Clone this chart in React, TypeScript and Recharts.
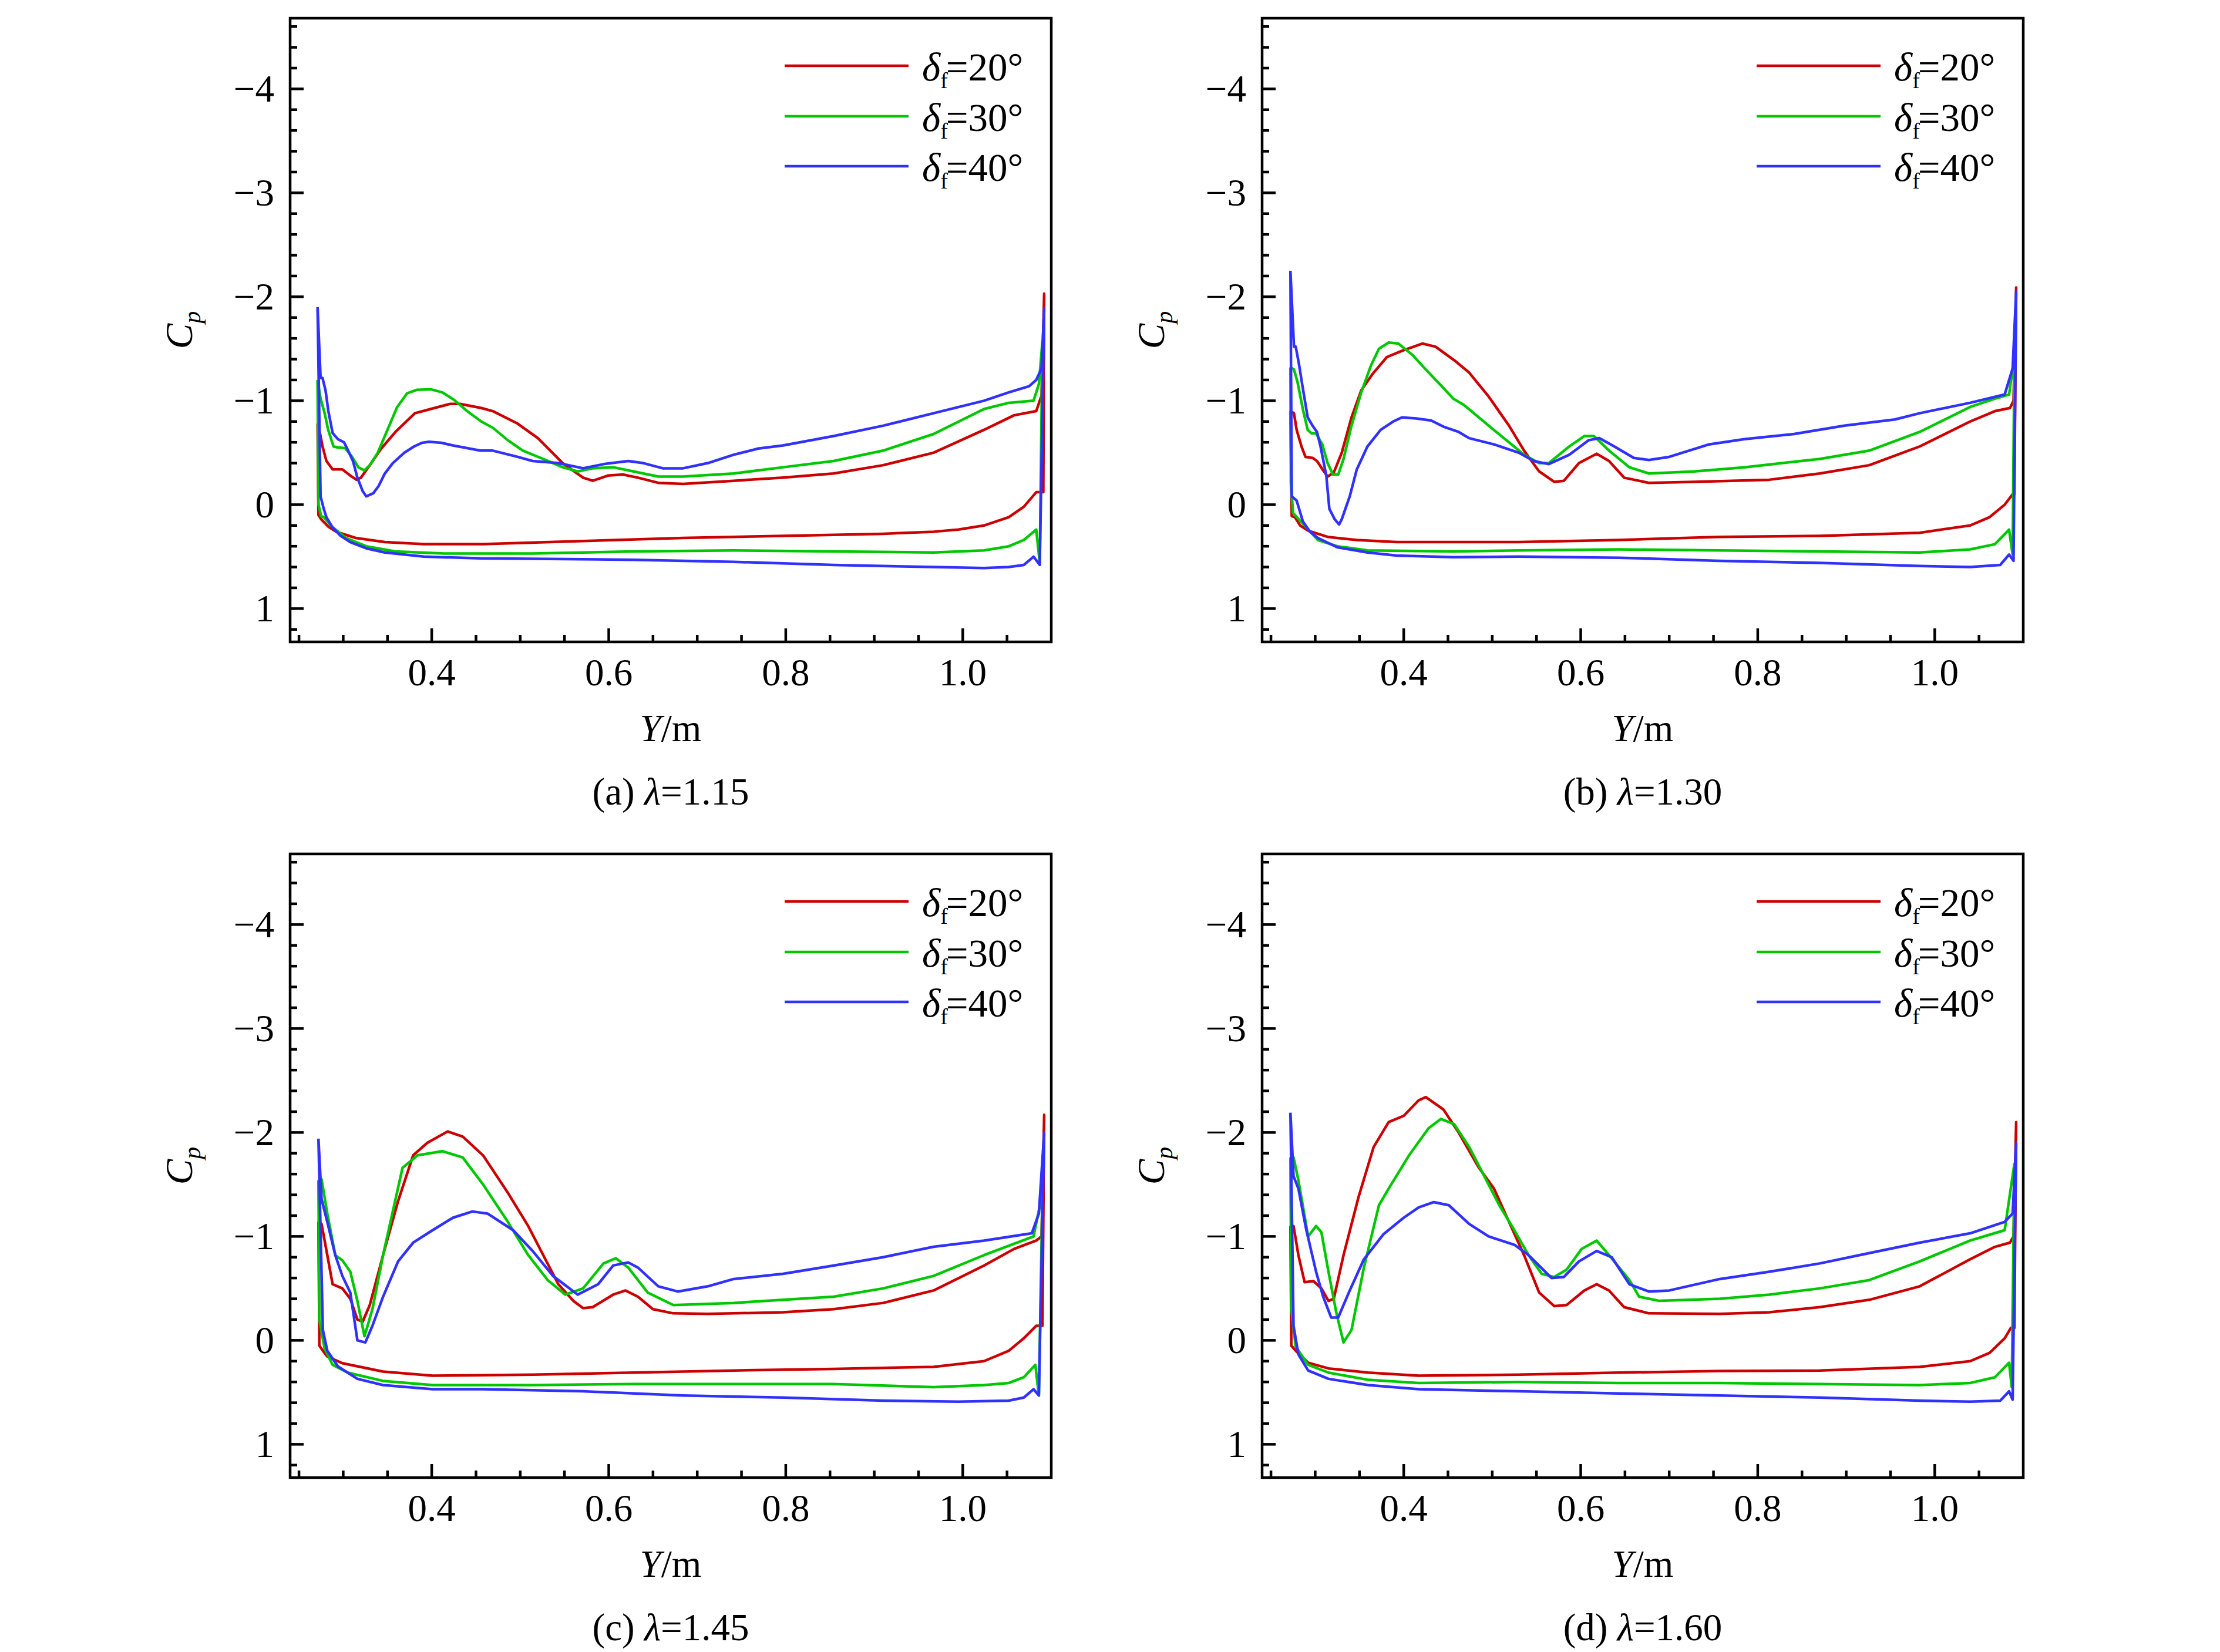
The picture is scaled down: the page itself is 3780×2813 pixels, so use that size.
import { LineChart, Line, XAxis, YAxis, ReferenceArea, Legend } from 'recharts'

type P = [number, number]

const FONT = "'Liberation Serif', 'Times New Roman', serif"
const FS = 65

// axis ticks (minor + major)
const X_TICKS = [0.25, 0.3, 0.35, 0.4, 0.45, 0.5, 0.55, 0.6, 0.65, 0.7, 0.75, 0.8, 0.85, 0.9, 0.95, 1.0, 1.05]
const X_MAJOR = [0.4, 0.6, 0.8, 1.0]
const Y_TICKS = [-4.6, -4.4, -4.2, -4, -3.8, -3.6, -3.4, -3.2, -3, -2.8, -2.6, -2.4, -2.2, -2, -1.8, -1.6, -1.4, -1.2, -1,
  -0.8, -0.6, -0.4, -0.2, 0, 0.2, 0.4, 0.6, 0.8, 1, 1.2]
const X_DOMAIN: P = [0.24, 1.1]
const Y_DOMAIN: P = [-4.68, 1.32]

const SERIES = [
  { key: 'd20', label: '=20°', color: '#cc0000' },
  { key: 'd30', label: '=30°', color: '#00c800' },
  { key: 'd40', label: '=40°', color: '#3030ff' },
]

// (a) lambda = 1.15
const A20_UP: P[] = [[0.271, -0.78], [0.2744, -0.66], [0.2766, -0.56], [0.281, -0.42], [0.288, -0.34], [0.299, -0.34], [0.308, -0.28], [0.315, -0.24], [0.32, -0.26], [0.33, -0.38], [0.343, -0.54], [0.359, -0.7], [0.381, -0.88], [0.403, -0.93], [0.421, -0.97], [0.432, -0.97], [0.456, -0.93], [0.469, -0.9], [0.497, -0.78], [0.52, -0.64], [0.548, -0.4], [0.571, -0.26], [0.582, -0.23], [0.599, -0.28], [0.616, -0.29], [0.633, -0.26], [0.656, -0.21], [0.684, -0.2], [0.741, -0.23], [0.797, -0.26], [0.854, -0.3], [0.91, -0.38], [0.967, -0.5], [1.024, -0.72], [1.058, -0.86], [1.083, -0.9], [1.089, -1.05], [1.092, -2.03]]
const A20_LO: P[] = [[1.091, -0.12], [1.083, -0.12], [1.069, 0.02], [1.052, 0.12], [1.024, 0.2], [0.995, 0.24], [0.967, 0.26], [0.91, 0.28], [0.797, 0.3], [0.684, 0.32], [0.571, 0.35], [0.458, 0.38], [0.391, 0.38], [0.347, 0.36], [0.314, 0.32], [0.292, 0.26], [0.283, 0.21], [0.275, 0.14], [0.272, 0.1]]
const A30_UP: P[] = [[0.271, -1.2], [0.2744, -1.02], [0.279, -0.88], [0.283, -0.72], [0.289, -0.56], [0.294, -0.55], [0.302, -0.545], [0.31, -0.46], [0.317, -0.36], [0.324, -0.33], [0.33, -0.38], [0.339, -0.5], [0.35, -0.72], [0.361, -0.94], [0.372, -1.07], [0.383, -1.105], [0.399, -1.11], [0.412, -1.08], [0.425, -1.01], [0.44, -0.9], [0.456, -0.8], [0.469, -0.74], [0.486, -0.62], [0.503, -0.52], [0.526, -0.44], [0.548, -0.36], [0.565, -0.32], [0.582, -0.35], [0.605, -0.36], [0.628, -0.32], [0.656, -0.27], [0.684, -0.27], [0.741, -0.3], [0.797, -0.36], [0.854, -0.42], [0.91, -0.52], [0.967, -0.68], [1.024, -0.92], [1.052, -0.98], [1.08, -1.0], [1.086, -1.16], [1.09, -1.57]]
const A30_LO: P[] = [[1.087, 0.56], [1.083, 0.24], [1.069, 0.34], [1.052, 0.4], [1.024, 0.44], [0.967, 0.46], [0.854, 0.45], [0.741, 0.44], [0.628, 0.45], [0.514, 0.47], [0.414, 0.47], [0.359, 0.45], [0.326, 0.4], [0.303, 0.32], [0.287, 0.21], [0.278, 0.12], [0.275, 0.11], [0.272, 0.0]]
const A40_UP: P[] = [[0.271, -1.9], [0.2744, -1.22], [0.2766, -1.22], [0.28, -1.1], [0.2832, -0.9], [0.288, -0.69], [0.294, -0.63], [0.301, -0.6], [0.305, -0.53], [0.311, -0.42], [0.316, -0.26], [0.322, -0.13], [0.326, -0.08], [0.334, -0.11], [0.34, -0.18], [0.347, -0.3], [0.356, -0.4], [0.369, -0.5], [0.38, -0.56], [0.389, -0.595], [0.397, -0.605], [0.411, -0.595], [0.424, -0.57], [0.455, -0.52], [0.469, -0.52], [0.497, -0.46], [0.514, -0.42], [0.543, -0.4], [0.571, -0.35], [0.594, -0.39], [0.622, -0.42], [0.639, -0.4], [0.661, -0.35], [0.684, -0.35], [0.712, -0.4], [0.741, -0.48], [0.769, -0.54], [0.797, -0.57], [0.854, -0.66], [0.91, -0.76], [0.967, -0.88], [1.024, -1.0], [1.052, -1.08], [1.075, -1.14], [1.083, -1.2], [1.089, -1.31], [1.092, -1.89]]
const A40_LO: P[] = [[1.087, 0.58], [1.08, 0.5], [1.069, 0.58], [1.052, 0.6], [1.024, 0.61], [0.967, 0.6], [0.854, 0.58], [0.741, 0.55], [0.628, 0.53], [0.514, 0.52], [0.455, 0.517], [0.391, 0.5], [0.347, 0.46], [0.326, 0.42], [0.308, 0.36], [0.297, 0.3], [0.288, 0.22], [0.281, 0.12], [0.278, 0.04], [0.2744, -0.08]]

// (b) lambda = 1.30
const B20_UP: P[] = [[0.272, -0.9], [0.276, -0.88], [0.279, -0.72], [0.2845, -0.56], [0.289, -0.46], [0.297, -0.45], [0.302, -0.42], [0.309, -0.33], [0.314, -0.27], [0.321, -0.31], [0.33, -0.5], [0.341, -0.84], [0.352, -1.1], [0.365, -1.26], [0.381, -1.42], [0.398, -1.48], [0.421, -1.55], [0.436, -1.52], [0.457, -1.39], [0.474, -1.27], [0.496, -1.04], [0.519, -0.76], [0.536, -0.52], [0.553, -0.32], [0.57, -0.22], [0.581, -0.23], [0.598, -0.4], [0.618, -0.49], [0.632, -0.42], [0.649, -0.26], [0.677, -0.21], [0.728, -0.22], [0.813, -0.24], [0.87, -0.3], [0.926, -0.38], [0.983, -0.56], [1.04, -0.8], [1.068, -0.9], [1.085, -0.93], [1.089, -1.0], [1.092, -2.09]]
const B20_LO: P[] = [[1.09, -0.1], [1.088, -0.1], [1.079, 0.0], [1.062, 0.12], [1.04, 0.2], [0.983, 0.27], [0.87, 0.3], [0.756, 0.31], [0.643, 0.34], [0.53, 0.36], [0.456, 0.36], [0.392, 0.36], [0.347, 0.34], [0.314, 0.31], [0.292, 0.25], [0.283, 0.2], [0.277, 0.12], [0.2735, 0.11]]
const B30_UP: P[] = [[0.272, -1.32], [0.276, -1.3], [0.28, -1.18], [0.286, -0.92], [0.2915, -0.72], [0.296, -0.685], [0.301, -0.685], [0.308, -0.58], [0.314, -0.4], [0.32, -0.29], [0.326, -0.29], [0.332, -0.44], [0.341, -0.76], [0.352, -1.08], [0.363, -1.34], [0.372, -1.5], [0.383, -1.56], [0.394, -1.55], [0.41, -1.44], [0.425, -1.3], [0.443, -1.14], [0.456, -1.02], [0.468, -0.96], [0.496, -0.76], [0.519, -0.6], [0.536, -0.48], [0.553, -0.4], [0.564, -0.4], [0.587, -0.56], [0.604, -0.66], [0.615, -0.66], [0.632, -0.52], [0.655, -0.36], [0.677, -0.3], [0.728, -0.32], [0.785, -0.36], [0.87, -0.44], [0.926, -0.52], [0.983, -0.7], [1.04, -0.94], [1.068, -1.02], [1.084, -1.06], [1.09, -1.43]]
const B30_LO: P[] = [[1.088, 0.48], [1.084, 0.24], [1.068, 0.38], [1.04, 0.43], [0.983, 0.46], [0.87, 0.45], [0.756, 0.44], [0.643, 0.43], [0.53, 0.44], [0.456, 0.45], [0.359, 0.44], [0.325, 0.4], [0.303, 0.34], [0.288, 0.2], [0.275, 0.08], [0.2725, -0.2]]
const B40_UP: P[] = [[0.272, -2.25], [0.276, -1.52], [0.278, -1.52], [0.2815, -1.36], [0.286, -1.12], [0.2915, -0.84], [0.297, -0.76], [0.302, -0.7], [0.306, -0.56], [0.3125, -0.28], [0.316, 0.04], [0.322, 0.14], [0.327, 0.19], [0.33, 0.14], [0.339, -0.08], [0.347, -0.34], [0.359, -0.56], [0.374, -0.72], [0.388, -0.8], [0.398, -0.84], [0.414, -0.83], [0.431, -0.81], [0.445, -0.75], [0.462, -0.7], [0.474, -0.64], [0.502, -0.58], [0.53, -0.5], [0.547, -0.42], [0.564, -0.39], [0.587, -0.48], [0.609, -0.62], [0.621, -0.64], [0.638, -0.56], [0.66, -0.45], [0.677, -0.43], [0.7, -0.46], [0.745, -0.58], [0.785, -0.63], [0.841, -0.68], [0.898, -0.76], [0.955, -0.82], [0.983, -0.88], [1.04, -0.98], [1.079, -1.06], [1.088, -1.31], [1.092, -2.05]]
const B40_LO: P[] = [[1.089, 0.54], [1.084, 0.48], [1.074, 0.58], [1.04, 0.6], [0.983, 0.59], [0.87, 0.56], [0.756, 0.54], [0.643, 0.51], [0.53, 0.5], [0.456, 0.505], [0.392, 0.49], [0.359, 0.46], [0.325, 0.41], [0.303, 0.32], [0.294, 0.26], [0.286, 0.16], [0.279, -0.04], [0.2735, -0.08]]

// (c) lambda = 1.45
const C20_UP: P[] = [[0.272, -1.14], [0.2755, -1.12], [0.282, -0.82], [0.288, -0.54], [0.299, -0.5], [0.308, -0.4], [0.316, -0.2], [0.322, -0.18], [0.33, -0.34], [0.345, -0.82], [0.362, -1.34], [0.379, -1.78], [0.395, -1.9], [0.418, -2.01], [0.435, -1.96], [0.458, -1.78], [0.486, -1.42], [0.509, -1.1], [0.526, -0.82], [0.543, -0.54], [0.56, -0.38], [0.571, -0.31], [0.582, -0.32], [0.605, -0.44], [0.619, -0.48], [0.633, -0.42], [0.65, -0.3], [0.673, -0.26], [0.712, -0.255], [0.797, -0.27], [0.854, -0.3], [0.91, -0.36], [0.967, -0.48], [1.024, -0.72], [1.058, -0.88], [1.083, -0.96], [1.089, -1.0], [1.092, -2.17]]
const C20_LO: P[] = [[1.09, -0.14], [1.083, -0.14], [1.069, -0.02], [1.052, 0.1], [1.024, 0.2], [0.967, 0.255], [0.854, 0.275], [0.741, 0.29], [0.628, 0.31], [0.514, 0.33], [0.401, 0.34], [0.345, 0.3], [0.299, 0.22], [0.282, 0.155], [0.277, 0.1], [0.273, 0.05]]
const C30_UP: P[] = [[0.272, -1.54], [0.2755, -1.55], [0.282, -1.22], [0.291, -0.82], [0.299, -0.77], [0.308, -0.66], [0.316, -0.38], [0.324, -0.04], [0.333, -0.3], [0.345, -0.82], [0.367, -1.66], [0.384, -1.78], [0.412, -1.82], [0.435, -1.76], [0.458, -1.5], [0.486, -1.14], [0.509, -0.82], [0.531, -0.58], [0.551, -0.44], [0.571, -0.5], [0.594, -0.74], [0.608, -0.79], [0.622, -0.7], [0.644, -0.46], [0.673, -0.34], [0.741, -0.36], [0.797, -0.39], [0.854, -0.42], [0.91, -0.5], [0.967, -0.62], [1.024, -0.82], [1.08, -1.0], [1.09, -1.42]]
const C30_LO: P[] = [[1.086, 0.53], [1.082, 0.235], [1.069, 0.355], [1.052, 0.41], [1.024, 0.43], [0.967, 0.45], [0.854, 0.42], [0.741, 0.42], [0.628, 0.42], [0.514, 0.43], [0.401, 0.43], [0.345, 0.39], [0.305, 0.31], [0.288, 0.235], [0.279, 0.08], [0.273, -0.2]]
const C40_UP: P[] = [[0.272, -1.94], [0.2755, -1.36], [0.282, -1.14], [0.291, -0.82], [0.299, -0.62], [0.308, -0.46], [0.316, 0.0], [0.325, 0.02], [0.333, -0.14], [0.345, -0.42], [0.362, -0.76], [0.379, -0.94], [0.401, -1.06], [0.424, -1.18], [0.446, -1.24], [0.463, -1.22], [0.492, -1.06], [0.514, -0.86], [0.537, -0.62], [0.565, -0.44], [0.588, -0.54], [0.605, -0.72], [0.622, -0.75], [0.633, -0.7], [0.656, -0.52], [0.678, -0.47], [0.712, -0.52], [0.741, -0.59], [0.797, -0.64], [0.854, -0.72], [0.91, -0.8], [0.967, -0.9], [1.024, -0.96], [1.078, -1.03], [1.086, -1.22], [1.092, -2.0]]
const C40_LO: P[] = [[1.086, 0.53], [1.08, 0.47], [1.069, 0.55], [1.052, 0.58], [0.995, 0.59], [0.91, 0.58], [0.797, 0.55], [0.684, 0.53], [0.571, 0.49], [0.458, 0.47], [0.401, 0.47], [0.345, 0.43], [0.316, 0.37], [0.294, 0.25], [0.282, 0.1], [0.277, -0.1]]

// (d) lambda = 1.60
const D20_UP: P[] = [[0.272, -1.1], [0.2755, -1.1], [0.281, -0.82], [0.288, -0.56], [0.298, -0.57], [0.307, -0.5], [0.315, -0.38], [0.321, -0.4], [0.332, -0.82], [0.349, -1.38], [0.366, -1.86], [0.383, -2.1], [0.4, -2.16], [0.417, -2.31], [0.425, -2.34], [0.445, -2.22], [0.462, -2.0], [0.485, -1.66], [0.502, -1.46], [0.519, -1.14], [0.536, -0.82], [0.553, -0.46], [0.57, -0.33], [0.584, -0.34], [0.604, -0.48], [0.618, -0.54], [0.632, -0.48], [0.649, -0.32], [0.677, -0.26], [0.757, -0.255], [0.813, -0.27], [0.87, -0.32], [0.926, -0.39], [0.983, -0.52], [1.04, -0.78], [1.068, -0.9], [1.085, -0.94], [1.089, -1.0], [1.092, -2.1]]
const D20_LO: P[] = [[1.09, -0.12], [1.086, -0.12], [1.079, -0.02], [1.062, 0.12], [1.04, 0.2], [0.983, 0.255], [0.87, 0.29], [0.757, 0.295], [0.643, 0.31], [0.53, 0.33], [0.417, 0.34], [0.36, 0.31], [0.315, 0.27], [0.292, 0.215], [0.278, 0.1], [0.273, 0.05]]
const D30_UP: P[] = [[0.272, -1.76], [0.2755, -1.76], [0.281, -1.54], [0.292, -1.0], [0.301, -1.1], [0.307, -1.04], [0.315, -0.66], [0.324, -0.26], [0.332, 0.02], [0.341, -0.1], [0.355, -0.7], [0.372, -1.3], [0.383, -1.46], [0.406, -1.78], [0.428, -2.04], [0.442, -2.13], [0.457, -2.08], [0.474, -1.86], [0.491, -1.58], [0.508, -1.3], [0.525, -1.06], [0.541, -0.82], [0.556, -0.64], [0.57, -0.61], [0.584, -0.68], [0.601, -0.88], [0.618, -0.96], [0.632, -0.82], [0.655, -0.58], [0.666, -0.42], [0.689, -0.38], [0.757, -0.4], [0.813, -0.44], [0.87, -0.5], [0.926, -0.58], [0.983, -0.76], [1.04, -0.96], [1.079, -1.06], [1.09, -1.7]]
const D30_LO: P[] = [[1.087, 0.45], [1.084, 0.215], [1.068, 0.355], [1.04, 0.41], [0.983, 0.43], [0.87, 0.42], [0.757, 0.41], [0.643, 0.41], [0.53, 0.4], [0.417, 0.41], [0.36, 0.38], [0.315, 0.31], [0.292, 0.235], [0.278, 0.06], [0.273, -0.3]]
const D40_UP: P[] = [[0.272, -2.19], [0.2755, -1.58], [0.281, -1.46], [0.29, -1.06], [0.301, -0.66], [0.309, -0.42], [0.318, -0.22], [0.326, -0.22], [0.338, -0.46], [0.355, -0.78], [0.377, -1.02], [0.4, -1.18], [0.417, -1.28], [0.434, -1.33], [0.451, -1.3], [0.474, -1.12], [0.496, -1.0], [0.525, -0.92], [0.541, -0.82], [0.567, -0.6], [0.581, -0.61], [0.598, -0.76], [0.618, -0.86], [0.635, -0.8], [0.655, -0.54], [0.677, -0.47], [0.7, -0.48], [0.757, -0.59], [0.813, -0.66], [0.87, -0.74], [0.926, -0.84], [0.983, -0.94], [1.04, -1.03], [1.079, -1.14], [1.088, -1.22], [1.092, -1.9]]
const D40_LO: P[] = [[1.088, 0.57], [1.084, 0.49], [1.074, 0.58], [1.04, 0.59], [0.983, 0.58], [0.87, 0.55], [0.757, 0.53], [0.643, 0.51], [0.53, 0.49], [0.417, 0.47], [0.36, 0.43], [0.315, 0.37], [0.292, 0.29], [0.281, 0.135], [0.2755, -0.14]]

// layout (px): plot area starts at (ML, MT) inside each chart
const ML = 300
const MT = 31
const PW = 1296
const PH = 1062
const MR = 20
const MB = 330
const AX = 60 // room reserved by each axis
const CW = ML + PW + MR
const CH = MT + PH + MB

const PANELS = [
  { tag: '(a)', lam: '1.15', left: 194, top: 0, curves: [[A20_UP, A20_LO], [A30_UP, A30_LO], [A40_UP, A40_LO]] },
  { tag: '(b)', lam: '1.30', left: 1849, top: 0, curves: [[B20_UP, B20_LO], [B30_UP, B30_LO], [B40_UP, B40_LO]] },
  { tag: '(c)', lam: '1.45', left: 194, top: 1423, curves: [[C20_UP, C20_LO], [C30_UP, C30_LO], [C40_UP, C40_LO]] },
  { tag: '(d)', lam: '1.60', left: 1849, top: 1423, curves: [[D20_UP, D20_LO], [D30_UP, D30_LO], [D40_UP, D40_LO]] },
]

// closed loop: upper surface LE->TE, lower surface TE->LE, back to start
const loop = (up: P[], lo: P[]) => [...up, ...lo, up[0]].map(([x, y]) => ({ x, y }))

function XTick({ x, y, payload }: any) {
  const v = payload.value
  const major = X_MAJOR.some(m => Math.abs(m - v) < 1e-6)
  return (
    <g>
      <line x1={x} y1={y} x2={x} y2={y - (major ? 23 : 12)} stroke="#000" strokeWidth={4.5} />
      {major && (
        <text x={x} y={y + 74} textAnchor="middle" fontFamily={FONT} fontSize={FS} fill="#000">
          {v.toFixed(1)}
        </text>
      )}
    </g>
  )
}

function YTick({ x, y, payload }: any) {
  const v = payload.value
  const major = Math.abs(v - Math.round(v)) < 1e-6
  const txt = v < 0 ? `\u2212${Math.abs(Math.round(v))}` : String(Math.round(v))
  return (
    <g>
      <line x1={x} y1={y} x2={x + (major ? 23 : 12)} y2={y} stroke="#000" strokeWidth={4.5} />
      {major && (
        <text x={x - 27} y={y} textAnchor="end" dominantBaseline="central" fontFamily={FONT} fontSize={FS} fill="#000">
          {txt}
        </text>
      )}
    </g>
  )
}

function XTitle({ tag, lam }: { tag: string; lam: string }) {
  const cx = ML + PW / 2
  const base = MT + PH
  return (
    <g fontFamily={FONT} fontSize={FS} fill="#000">
      <text x={cx} y={base + 169} textAnchor="middle">
        <tspan fontStyle="italic">Y</tspan>/m
      </text>
      <text x={cx} y={base + 277} textAnchor="middle">
        {tag} <tspan fontStyle="italic">λ</tspan>={lam}
      </text>
    </g>
  )
}

function YTitle() {
  const cx = ML - 167
  const cy = MT + PH / 2
  return (
    <text x={cx} y={cy} transform={`rotate(-90, ${cx}, ${cy})`} textAnchor="middle" fontFamily={FONT} fontSize={FS} fill="#000">
      <tspan fontStyle="italic">C</tspan>
      <tspan fontStyle="italic" fontSize={42} dy={14}>p</tspan>
    </text>
  )
}

function LegendBox() {
  const rows = [40, 126, 211]
  return (
    <svg width={640} height={260} style={{ display: 'block', overflow: 'visible' }}>
      {SERIES.map((s, i) => (
        <g key={s.key}>
          <line x1={0} y1={rows[i]} x2={211} y2={rows[i]} stroke={s.color} strokeWidth={4.5} />
          <text x={234} y={rows[i] + 25} fontFamily={FONT} fontSize={FS + 2} fill="#000">
            <tspan fontStyle="italic">δ</tspan>
            <tspan fontSize={38} dy={13}>f</tspan>
            <tspan dy={-13} dx={-3}>{s.label}</tspan>
          </text>
        </g>
      ))}
    </svg>
  )
}

function Panel({ p }: { p: (typeof PANELS)[number] }) {
  return (
    <div style={{ position: 'absolute', left: p.left, top: p.top }}>
      <LineChart width={CW} height={CH} margin={{ top: MT, right: MR, bottom: MB - AX, left: ML - AX }}>
        <XAxis
          dataKey="x"
          type="number"
          domain={X_DOMAIN}
          allowDataOverflow
          ticks={X_TICKS}
          interval={0}
          height={AX}
          axisLine={false}
          tickLine={false}
          tickSize={0}
          tickMargin={0}
          tick={<XTick />}
          label={<XTitle tag={p.tag} lam={p.lam} />}
        />
        <YAxis
          dataKey="y"
          type="number"
          domain={Y_DOMAIN}
          allowDataOverflow
          reversed
          ticks={Y_TICKS}
          interval={0}
          width={AX}
          axisLine={false}
          tickLine={false}
          tickSize={0}
          tickMargin={0}
          tick={<YTick />}
          label={<YTitle />}
        />
        <ReferenceArea
          x1={X_DOMAIN[0]}
          x2={X_DOMAIN[1]}
          y1={Y_DOMAIN[0]}
          y2={Y_DOMAIN[1]}
          fill="none"
          fillOpacity={0}
          stroke="#000"
          strokeWidth={4.5}
          ifOverflow="visible"
        />
        {SERIES.map((s, i) => (
          <Line
            key={s.key}
            data={loop(p.curves[i][0], p.curves[i][1])}
            dataKey="y"
            name={s.key}
            type="linear"
            stroke={s.color}
            strokeWidth={4.5}
            strokeLinejoin="round"
            dot={false}
            activeDot={false}
            isAnimationActive={false}
          />
        ))}
        <Legend
          layout="vertical"
          align="center"
          verticalAlign="middle"
          wrapperStyle={{ left: 1142, top: 72, width: 640, height: 260 }}
          content={() => <LegendBox />}
        />
      </LineChart>
    </div>
  )
}

export default function App() {
  return (
    <div style={{ position: 'absolute', left: 0, top: 0, width: 3780, height: 2813, background: '#fff' }}>
      {PANELS.map(p => (
        <Panel key={p.tag} p={p} />
      ))}
    </div>
  )
}
